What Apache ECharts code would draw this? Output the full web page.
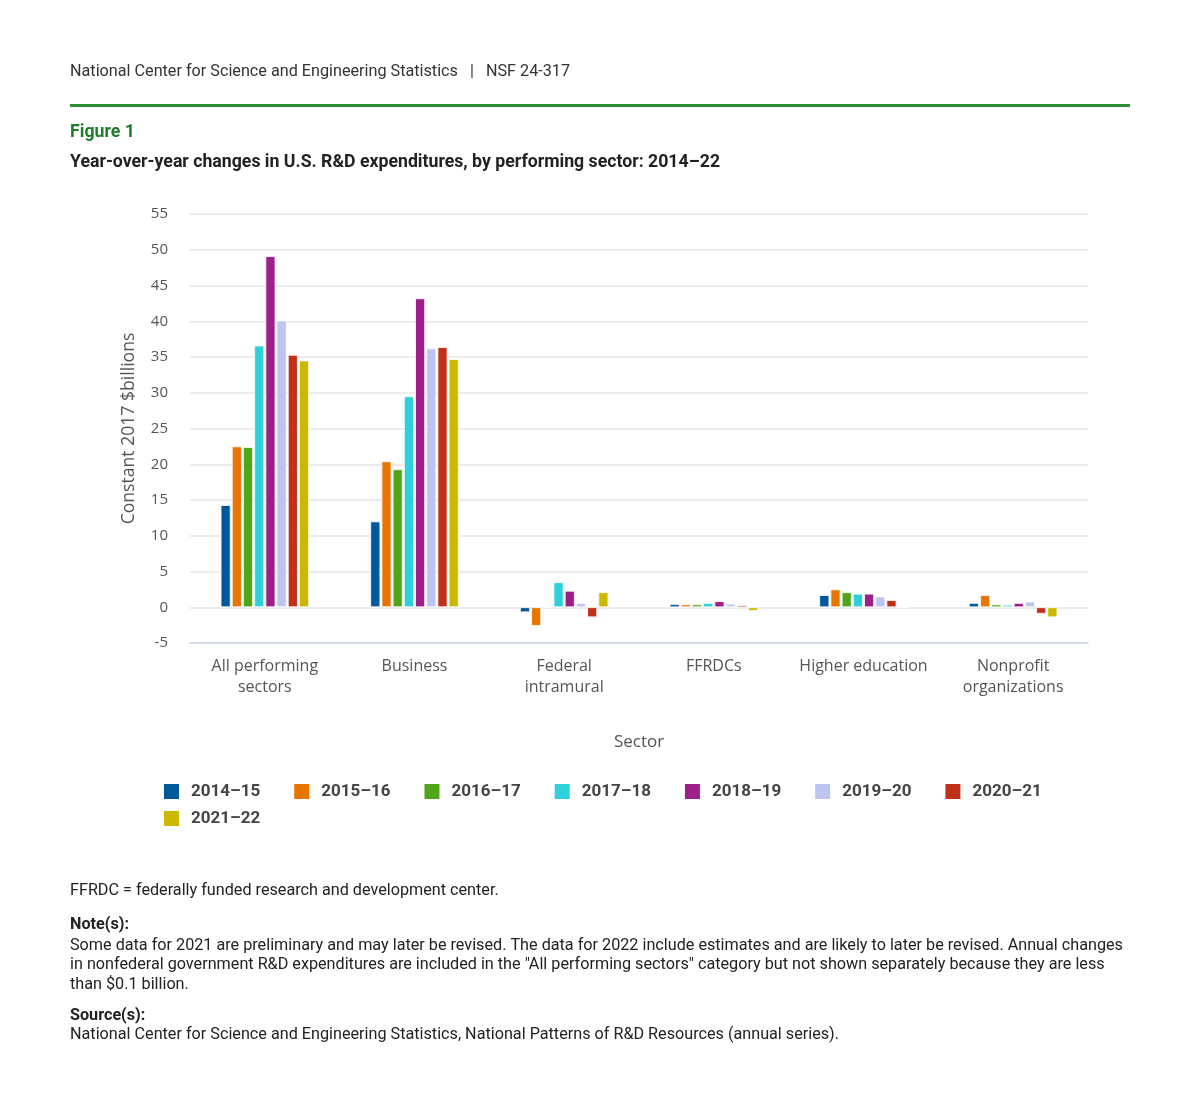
<!DOCTYPE html>
<html>
<head>
<meta charset="utf-8">
<script src="https://cdn.jsdelivr.net/npm/echarts@6/dist/echarts.min.js"></script>
<style>
  html, body { margin: 0; padding: 0; background: #fff; }
  #chart { width: 1200px; height: 1120px; }
</style>
</head>
<body>
<div id="chart"></div>
<script>
// sectors on the x axis
const sectors = ['All performing\nsectors', 'Business', 'Federal\nintramural', 'FFRDCs', 'Higher education', 'Nonprofit\norganizations'];

// year-over-year change, constant 2017 $billions, one array per period
const y2014_15 = [14.3, 12.0, -0.7, 0.45, 1.7, 0.6];
const y2015_16 = [22.5, 20.4, -2.6, 0.4, 2.5, 1.7];
const y2016_17 = [22.4, 19.3, 0, 0.4, 2.1, 0.4];
const y2017_18 = [36.6, 29.5, 3.5, 0.6, 1.9, 0.35];
const y2018_19 = [49.1, 43.2, 2.3, 0.85, 1.9, 0.6];
const y2019_20 = [40.1, 36.2, 0.6, 0.5, 1.5, 0.8];
const y2020_21 = [35.3, 36.4, -1.4, 0.3, 1.0, -0.9];
const y2021_22 = [34.5, 34.7, 2.1, -0.5, 0, -1.4];

const periods = ['2014–15', '2015–16', '2016–17', '2017–18', '2018–19', '2019–20', '2020–21', '2021–22'];
const values = [y2014_15, y2015_16, y2016_17, y2017_18, y2018_19, y2019_20, y2020_21, y2021_22];
const colors = ['#00589c', '#e87500', '#52a51b', '#2ed1d9', '#9e1f8a', '#bcc5f2', '#c0311a', '#cdb800'];

const noteLines = [
  'Some data for 2021 are preliminary and may later be revised. The data for 2022 include estimates and are likely to later be revised. Annual changes',
  'in nonfederal government R&D expenditures are included in the "All performing sectors" category but not shown separately because they are less',
  'than $0.1 billion.'
];

const chart = echarts.init(document.getElementById('chart'), null, { renderer: 'canvas' });

const legendText = {
  fontFamily: 'Roboto',
  fontWeight: 'bold',
  fontSize: 17,
  color: '#444',
  padding: [0, 0, 0, 6]
};

const option = {
  backgroundColor: '#fff',
  animation: false,
  color: colors,
  grid: { left: 190, right: 112, top: 214, bottom: 477, containLabel: false },
  legend: [
    {
      data: periods.slice(0, 7),
      left: 162, top: 782, padding: 0,
      icon: 'rect', itemWidth: 17, itemHeight: 17, itemGap: 32,
      textStyle: legendText
    },
    {
      data: periods.slice(7),
      left: 162, top: 809, padding: 0,
      icon: 'rect', itemWidth: 17, itemHeight: 17, itemGap: 32,
      textStyle: legendText
    }
  ],
  xAxis: {
    type: 'category',
    data: sectors,
    name: 'Sector',
    nameLocation: 'middle',
    nameGap: 91,
    nameTextStyle: { fontFamily: 'Open Sans', fontSize: 17, color: '#555' },
    axisLine: { onZero: false, lineStyle: { color: '#ccd6eb', width: 1.5 } },
    axisTick: { alignWithLabel: true, length: 10, lineStyle: { color: '#ccd6eb', width: 1.5 } },
    axisLabel: {
      fontFamily: 'Open Sans', fontSize: 16, color: '#555',
      lineHeight: 21, margin: 13, interval: 0
    }
  },
  yAxis: {
    type: 'value',
    min: -5, max: 55, interval: 5,
    name: 'Constant 2017 $billions',
    nameLocation: 'middle',
    nameGap: 52,
    nameTextStyle: { fontFamily: 'Open Sans', fontSize: 17.6, color: '#555' },
    axisLine: { show: false },
    axisTick: { show: false },
    axisLabel: { fontFamily: 'Open Sans', fontSize: 15, color: '#555', margin: 22 },
    splitLine: { lineStyle: { color: '#e6e6e6', width: 1.5 } }
  },
  series: periods.map((p, i) => ({
    name: p,
    type: 'bar',
    data: values[i],
    barWidth: 10,
    barGap: '12%',
    itemStyle: { borderColor: '#fff', borderWidth: 0.8 }
  })),
  graphic: [
    {
      type: 'text', left: 70, top: 64,
      style: { text: 'National Center for Science and Engineering Statistics   |   NSF 24-317', fontFamily: 'Roboto', fontSize: 16.2, fill: '#333' }
    },
    {
      type: 'rect', left: 70, top: 104,
      shape: { width: 1060, height: 3 },
      style: { fill: '#2e8b36' }
    },
    {
      type: 'text', left: 70, top: 124,
      style: { text: 'Figure 1', fontFamily: 'Roboto', fontWeight: 'bold', fontSize: 17.7, fill: '#1e7d2b' }
    },
    {
      type: 'text', left: 70, top: 154,
      style: { text: 'Year-over-year changes in U.S. R&D expenditures, by performing sector: 2014–22', fontFamily: 'Roboto', fontWeight: 'bold', fontSize: 17.7, fill: '#222' }
    },
    {
      type: 'text', left: 70, top: 883,
      style: { text: 'FFRDC = federally funded research and development center.', fontFamily: 'Roboto', fontSize: 16.2, fill: '#222' }
    },
    {
      type: 'text', left: 70, top: 917,
      style: { text: 'Note(s):', fontFamily: 'Roboto', fontWeight: 'bold', fontSize: 16.2, fill: '#222' }
    },
    {
      type: 'text', left: 70, top: 936,
      style: { text: noteLines.join('\n'), fontFamily: 'Roboto', fontSize: 16.2, lineHeight: 19.5, fill: '#222' }
    },
    {
      type: 'text', left: 70, top: 1008,
      style: { text: 'Source(s):', fontFamily: 'Roboto', fontWeight: 'bold', fontSize: 16.2, fill: '#222' }
    },
    {
      type: 'text', left: 70, top: 1027,
      style: { text: 'National Center for Science and Engineering Statistics, National Patterns of R&D Resources (annual series).', fontFamily: 'Roboto', fontSize: 16.2, fill: '#222' }
    }
  ]
};

chart.setOption(option);
</script>
</body>
</html>
